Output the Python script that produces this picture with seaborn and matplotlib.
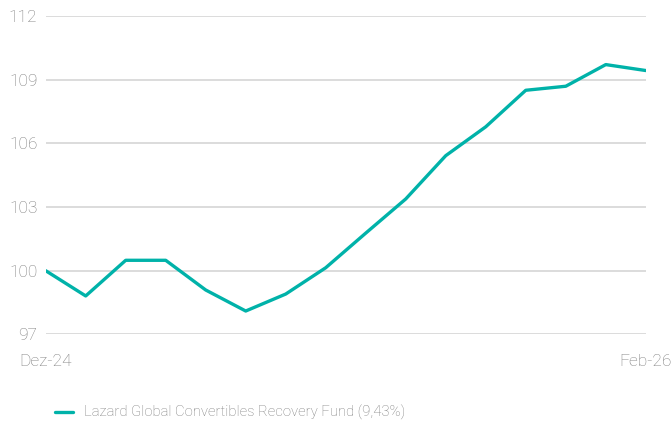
import matplotlib
matplotlib.use("Agg")
import pandas as pd
import seaborn as sns
import matplotlib.pyplot as plt

# Fund values (indexed, Dez-24 = 100)
periods = list(range(16))
values = [100.0, 98.81, 100.49, 100.49, 99.09, 98.10, 98.90, 100.14,
          101.77, 103.38, 105.42, 106.78, 108.50, 108.69, 109.71, 109.43]
x_tick_pos = [0, 15]
x_tick_labels = ['Dez-24', 'Feb-26']
y_ticks = [97, 100, 103, 106, 109, 112]
series_name = 'Lazard Global Convertibles Recovery Fund (9,43%)'

df = pd.DataFrame({'period': periods, 'value': values})

sns.set_style('white')
plt.rcParams['font.family'] = ['Roboto', 'DejaVu Sans']
plt.rcParams['font.weight'] = 'light'

fig = plt.figure(figsize=(6.72, 4.32), dpi=100)
ax = fig.add_axes([0.068, 0.226, 0.893, 0.737])

sns.lineplot(ax=ax, data=df, x='period', y='value', color='#00B2A9',
             linewidth=2.4, label=series_name, legend=False)

ax.set_xlim(0, 15)
ax.set_ylim(97, 112)
ax.set_yticks(y_ticks)
ax.set_xticks(x_tick_pos)
ax.set_xticklabels(x_tick_labels)
ax.yaxis.grid(True, color='#d9d9d9', linewidth=1.3)
ax.set_axisbelow(True)
for s in ax.spines.values():
    s.set_visible(False)
ax.tick_params(axis='y', length=0, pad=6, labelsize=12.5, labelcolor='#7d7d7d')
ax.tick_params(axis='x', length=0, pad=14, labelsize=12.5, labelcolor='#7d7d7d')
ax.set_xlabel('')
ax.set_ylabel('')

handles, labels = ax.get_legend_handles_labels()
leg = fig.legend(handles, labels, loc='center left', bbox_to_anchor=(0.062, 0.045),
                 frameon=False, handlelength=1.2, handletextpad=0.75, fontsize=10.7)
for t in leg.get_texts():
    t.set_color('#7d7d7d')

fig.savefig('out.png', dpi=100)
